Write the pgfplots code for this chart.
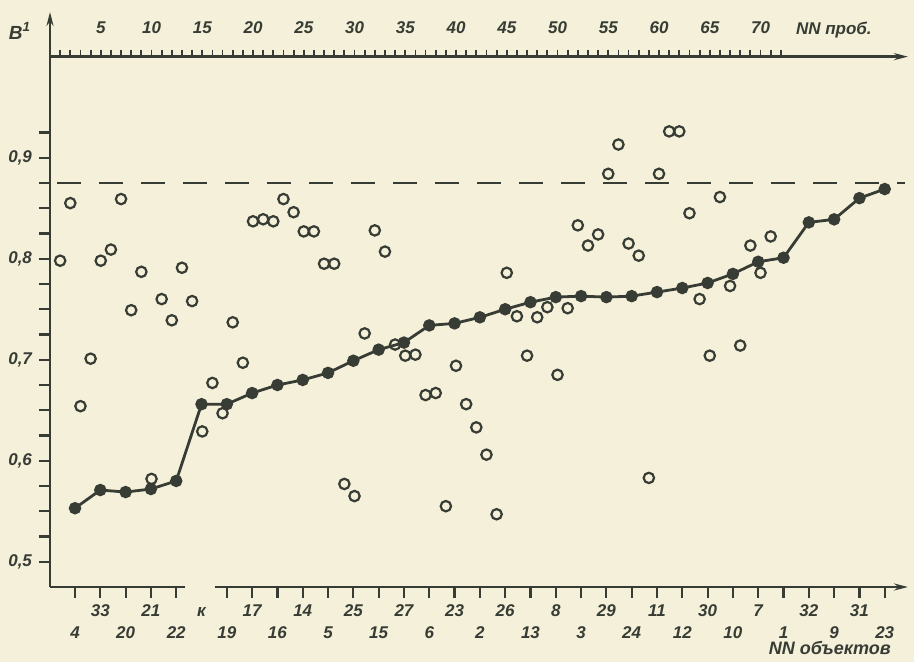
\documentclass[border=0pt]{standalone}
\usepackage{fontspec}
\setmainfont{Liberation Sans}
\usepackage{pgfplots}
\pgfplotsset{compat=1.18}
\usetikzlibrary{arrows.meta}
\definecolor{bg}{RGB}{245,240,217}
\definecolor{ink}{RGB}{55,60,52}
\newcommand\lo[1]{\raisebox{-11pt}{#1}}
\begin{document}
\begin{tikzpicture}[font=\fontsize{8.5}{10}\selectfont\bfseries\itshape]
\fill[bg] (0,0) rectangle (457pt,331pt);
% ---------- objects axis (bottom) ----------
\begin{axis}[
  at={(25pt,37.5pt)}, anchor=south west, scale only axis,
  width=429pt, height=287.5pt,
  xmin=0.012, xmax=33.92, ymin=0.475, ymax=1.04431,
  clip=false,
  axis x line*=bottom, axis y line*=left,
  axis line style={draw=none},
  tick align=outside,
  major tick length=5.5pt, minor tick length=5.5pt,
  tick style={ink, line width=1.1pt},
  /pgf/number format/assume math mode=true,
  xtick={1,2,3,4,5,7,8,9,10,11,12,13,14,15,16,17,18,19,20,21,22,23,24,25,26,27,28,29,30,31,32,33},
  xticklabels={\lo{4},33,\lo{20},21,\lo{22},\lo{19},17,\lo{16},14,\lo{5},25,\lo{15},27,\lo{6},23,\lo{2},26,\lo{13},8,\lo{3},29,\lo{24},11,\lo{12},30,\lo{10},7,\lo{1},32,\lo{9},31,\lo{23}},
  extra x ticks={6}, extra x tick labels={к},
  extra x tick style={tick style={draw=none}},
  xticklabel style={anchor=base, yshift=-9.5pt, text=ink},
  ytick={0.5,0.6,0.7,0.8,0.9},
  minor ytick={0.525,0.55,0.575,0.625,0.65,0.675,0.725,0.75,0.775,0.825,0.85,0.875,0.925},
  yticklabel style={text=ink, /pgf/number format/fixed, /pgf/number format/fixed zerofill, /pgf/number format/precision=1, /pgf/number format/use comma},
]
\draw[ink, line width=1.4pt, -{Stealth[length=7pt,width=3.5pt]}] (rel axis cs:0,0) -- (rel axis cs:0,1);
\draw[ink, line width=1.4pt] (rel axis cs:0,0) -- (axis cs:5.346,0.475);
\draw[ink, line width=1.4pt, -{Stealth[length=7pt,width=3.5pt]}] (axis cs:6.531,0.475) -- (rel axis cs:1,0);
\addplot[ink, line width=1.1pt, dash pattern=on 12pt off 9pt] coordinates {(0.29,0.875) (33.79,0.875)};
\addplot[ink, line width=1.4pt, mark=*, mark size=2.4pt] coordinates {
(1,0.553) (2,0.571) (3,0.569) (4,0.572) (5,0.580) (6,0.656) (7,0.656) (8,0.667)
(9,0.675) (10,0.680) (11,0.687) (12,0.699) (13,0.710) (14,0.717) (15,0.734) (16,0.736)
(17,0.742) (18,0.750) (19,0.757) (20,0.762) (21,0.763) (22,0.762) (23,0.763) (24,0.767)
(25,0.771) (26,0.776) (27,0.785) (28,0.797) (29,0.801) (30,0.836) (31,0.839) (32,0.860) (33,0.869)};
\node[anchor=base east, text=ink, font=\fontsize{9.5}{11}\selectfont\bfseries\itshape] at (axis cs:0.012,1.017) [xshift=-6pt] {B\textsuperscript{1}};
\node[anchor=base, text=ink, font=\fontsize{9}{11}\selectfont\bfseries\itshape] at (axis cs:30.83,0.475) [yshift=-34pt] {NN объектов};
\end{axis}
% ---------- probes axis (top) ----------
\begin{axis}[
  at={(25pt,37.5pt)}, anchor=south west, scale only axis,
  width=429pt, height=265.125pt,
  xmin=0, xmax=84.53, ymin=0.475, ymax=1.0,
  clip=false,
  axis x line*=top, axis y line=none,
  axis line style={draw=none},
  tick align=outside,
  major tick length=3.5pt, minor tick length=3.5pt,
  tick style={ink, line width=0.9pt},
  /pgf/number format/assume math mode=true,
  xtick={5,10,...,70},
  minor xtick={1,2,...,72},
  xticklabel style={anchor=base, yshift=8pt, text=ink},
  ytick=\empty,
]
\draw[ink, line width=1.4pt, -{Stealth[length=7pt,width=3.5pt]}] (rel axis cs:0,1) -- (rel axis cs:1,1);
\node[anchor=base west, text=ink] at (axis cs:72.8,1.0) [yshift=11pt] {NN проб.};
\addplot[ink, only marks, mark=o, mark size=2.6pt, mark options={line width=1.1pt}] coordinates {
(1,0.798) (2,0.855) (3,0.654) (4,0.701) (5,0.798) (6,0.809) (7,0.859) (8,0.749)
(9,0.787) (10,0.582) (11,0.760) (12,0.739) (13,0.791) (14,0.758) (15,0.629) (16,0.677)
(17,0.647) (18,0.737) (19,0.697) (20,0.837) (21,0.839) (22,0.837) (23,0.859) (24,0.846)
(25,0.827) (26,0.827) (27,0.795) (28,0.795) (29,0.577) (30,0.565) (31,0.726) (32,0.828)
(33,0.807) (34,0.715) (35,0.704) (36,0.705) (37,0.665) (38,0.667) (39,0.555) (40,0.694)
(41,0.656) (42,0.633) (43,0.606) (44,0.547) (45,0.786) (46,0.743) (47,0.704) (48,0.742)
(49,0.752) (50,0.685) (51,0.751) (52,0.833) (53,0.813) (54,0.824) (55,0.884) (56,0.913)
(57,0.815) (58,0.803) (59,0.583) (60,0.884) (61,0.926) (62,0.926) (63,0.845) (64,0.760)
(65,0.704) (66,0.861) (67,0.773) (68,0.714) (69,0.813) (70,0.786) (71,0.822)};
\end{axis}
\pgfresetboundingbox
\path[use as bounding box] (0,0) rectangle (457pt,331pt);
\end{tikzpicture}
\end{document}
